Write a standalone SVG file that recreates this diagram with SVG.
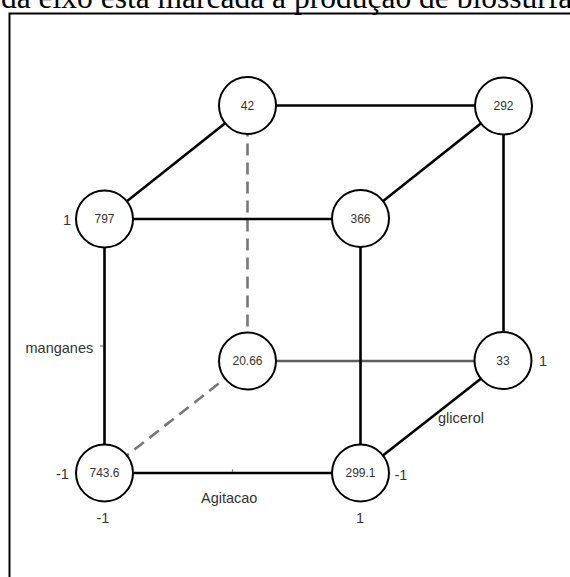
<svg xmlns="http://www.w3.org/2000/svg" width="570" height="577" viewBox="0 0 570 577">
  <style>
    .edge { stroke: #000; stroke-width: 2.6; fill: none; }
    .back { stroke: #5e5e5e; stroke-width: 2.4; fill: none; }
    .dash { stroke: #777; stroke-width: 2.6; fill: none; stroke-dasharray: 12 7; }
    .tick { stroke: #777; stroke-width: 1.2; }
    .node circle { fill: #fff; stroke: #000; stroke-width: 2; }
    .node text { font-family: "Liberation Sans", Arial, sans-serif; font-size: 12px; fill: #333; text-anchor: middle; }
    .lbl { font-family: "Liberation Sans", Arial, sans-serif; font-size: 14.5px; fill: #333; }
    .caption { font-family: "Liberation Serif", "Times New Roman", serif; font-size: 31.5px; fill: #000; }
  </style>

  <rect width="570" height="577" fill="#fff"/>

  <!-- caption line, partly above the top edge -->
  <text class="caption" x="1" y="8">da eixo está marcada a produção de biossurfa</text>

  <!-- frame -->
  <path d="M9.5 577 V13.5 H570" fill="none" stroke="#000" stroke-width="2"/>

  <!-- connectors -->
  <g id="connectors">
    <line class="dash" x1="247.5" y1="105.5" x2="247.5" y2="361"/>
    <line class="dash" x1="104.5" y1="473" x2="247.5" y2="361"/>
    <line class="back" x1="247.5" y1="361" x2="503.5" y2="361"/>
    <line class="edge" x1="247.5" y1="105.5" x2="503.5" y2="105.5"/>
    <line class="edge" x1="104.5" y1="219" x2="247.5" y2="105.5"/>
    <line class="edge" x1="360.5" y1="219" x2="503.5" y2="105.5"/>
    <line class="edge" x1="104.5" y1="219" x2="360.5" y2="219"/>
    <line class="edge" x1="104.5" y1="219" x2="104.5" y2="473"/>
    <line class="edge" x1="360.5" y1="219" x2="360.5" y2="473"/>
    <line class="edge" x1="503.5" y1="105.5" x2="503.5" y2="361"/>
    <line class="edge" x1="104.5" y1="473" x2="360.5" y2="473"/>
    <line class="edge" x1="360.5" y1="473" x2="503.5" y2="361"/>
    <!-- midpoint ticks -->
    <line class="tick" x1="100" y1="346" x2="103" y2="346"/>
    <line class="tick" x1="232.5" y1="469.5" x2="232.5" y2="472"/>
  </g>

  <!-- nodes -->
  <g id="n42" class="node"><circle cx="247.5" cy="105.5" r="28.5"/><text x="247.5" y="109.5">42</text></g>
  <g id="n292" class="node"><circle cx="503.5" cy="106" r="28.5"/><text x="503.5" y="110">292</text></g>
  <g id="n797" class="node"><circle cx="104.5" cy="219" r="28.5"/><text x="104.5" y="223">797</text></g>
  <g id="n366" class="node"><circle cx="360.5" cy="218.5" r="28.5"/><text x="360.5" y="222.5">366</text></g>
  <g id="n2066" class="node"><circle cx="247.5" cy="361" r="28.5"/><text x="247.5" y="365">20.66</text></g>
  <g id="n33" class="node"><circle cx="503" cy="360.5" r="28.5"/><text x="503" y="364.5">33</text></g>
  <g id="n7436" class="node"><circle cx="104.5" cy="473" r="28.5"/><text x="104.5" y="477">743.6</text></g>
  <g id="n2991" class="node"><circle cx="360.5" cy="473" r="28.5"/><text x="360.5" y="477">299.1</text></g>

  <!-- axis labels -->
  <g id="labels">
    <text class="lbl" x="63" y="225">1</text>
    <text class="lbl" x="25.5" y="353">manganes</text>
    <text class="lbl" x="56" y="479">-1</text>
    <text class="lbl" x="96.5" y="523">-1</text>
    <text class="lbl" x="201" y="503">Agitacao</text>
    <text class="lbl" x="356" y="523">1</text>
    <text class="lbl" x="394.5" y="480">-1</text>
    <text class="lbl" x="438" y="423">glicerol</text>
    <text class="lbl" x="539" y="366">1</text>
  </g>
</svg>
